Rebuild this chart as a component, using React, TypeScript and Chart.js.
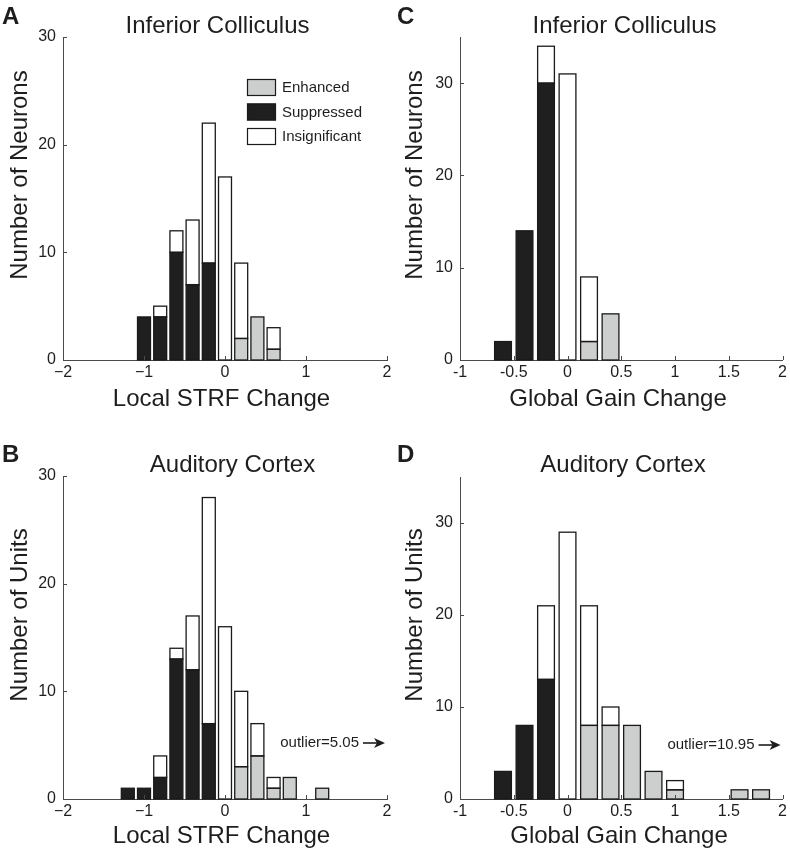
import React, { useEffect, useRef } from 'react';
import { Chart, registerables } from 'chart.js';

Chart.register(...registerables);

const FONT = '"Liberation Sans", Arial, Helvetica, sans-serif';
const AXIS_COLOR = '#4a4a4a';
const TEXT_COLOR = '#1e1e1e';
const SUPP_COLOR = '#1f1f1f';
const ENH_COLOR = '#cdcfcf';
const INSIG_COLOR = '#ffffff';
const EDGE_COLOR = '#1a1a1a';

const seriesLabels = ['Suppressed', 'Enhanced', 'Insignificant'];

// Panel A: Inferior Colliculus, Local STRF Change
const icLocalBins = [-1.0, -0.8, -0.6, -0.4, -0.2, 0, 0.2, 0.4, 0.6];
const icLocalSuppressed = [4, 4, 10, 7, 9, 0, 0, 0, 0];
const icLocalEnhanced = [0, 0, 0, 0, 0, 0, 2, 4, 1];
const icLocalInsignificant = [0, 1, 2, 6, 13, 17, 7, 0, 2];

// Panel B: Auditory Cortex, Local STRF Change
const acLocalBins = [-1.2, -1.0, -0.8, -0.6, -0.4, -0.2, 0, 0.2, 0.4, 0.6, 0.8, 1.0, 1.2];
const acLocalSuppressed = [1, 1, 2, 13, 12, 7, 0, 0, 0, 0, 0, 0, 0];
const acLocalEnhanced = [0, 0, 0, 0, 0, 0, 0, 3, 4, 1, 2, 0, 1];
const acLocalInsignificant = [0, 0, 2, 1, 5, 21, 16, 7, 3, 1, 0, 0, 0];

// Panel C: Inferior Colliculus, Global Gain Change
const icGainBins = [-0.6, -0.4, -0.2, 0, 0.2, 0.4];
const icGainSuppressed = [2, 14, 30, 0, 0, 0];
const icGainEnhanced = [0, 0, 0, 0, 2, 5];
const icGainInsignificant = [0, 0, 4, 31, 7, 0];

// Panel D: Auditory Cortex, Global Gain Change
const acGainBins = [-0.6, -0.4, -0.2, 0, 0.2, 0.4, 0.6, 0.8, 1.0, 1.2, 1.4, 1.6, 1.8];
const acGainSuppressed = [3, 8, 13, 0, 0, 0, 0, 0, 0, 0, 0, 0, 0];
const acGainEnhanced = [0, 0, 0, 0, 8, 8, 8, 3, 1, 0, 0, 1, 1];
const acGainInsignificant = [0, 0, 8, 29, 13, 2, 0, 0, 1, 0, 0, 0, 0];

// Axis ranges and labels
const localXRange = [-2, 2];
const localXStep = 1;
const gainXRange = [-1, 2];
const gainXStep = 0.5;
const icLocalYMax = 30;
const acLocalYMax = 30;
const icGainYMax = 35;
const acGainYMax = 35;
const yStep = 10;
const acLocalOutlier = 'outlier=5.05';
const acGainOutlier = 'outlier=10.95';

const decorPlugin = {
  id: 'decor',
  afterDatasetsDraw(chart: any, _a: any, o: any) {
    const { ctx, chartArea: ca, scales } = chart;
    ctx.save();
    // bar outlines, from the library's bar elements
    ctx.strokeStyle = EDGE_COLOR;
    ctx.lineWidth = 1.3;
    chart.data.datasets.forEach((_ds: any, di: number) => {
      const meta = chart.getDatasetMeta(di);
      meta.data.forEach((el: any, i: number) => {
        const parsed = meta.controller.getParsed(i);
        if (!parsed || parsed.y === null || parsed.y === undefined) return;
        const { x, y, base, width } = el.getProps(['x', 'y', 'base', 'width'], true);
        ctx.strokeRect(x - width / 2, y, width, base - y);
      });
    });
    // inward tick marks
    ctx.strokeStyle = AXIS_COLOR;
    ctx.lineWidth = 1;
    scales.x.ticks.forEach((t: any) => {
      const px = Math.round(scales.x.getPixelForValue(t.value)) + 0.5;
      ctx.beginPath();
      ctx.moveTo(px, ca.bottom);
      ctx.lineTo(px, ca.bottom - 4);
      ctx.stroke();
    });
    scales.y.ticks.forEach((t: any) => {
      const py = Math.round(scales.y.getPixelForValue(t.value)) + 0.5;
      ctx.beginPath();
      ctx.moveTo(ca.left, py);
      ctx.lineTo(ca.left + 4, py);
      ctx.stroke();
    });
    ctx.restore();
  },
  afterDraw(chart: any, _a: any, o: any) {
    const { ctx, chartArea: ca } = chart;
    ctx.save();
    ctx.fillStyle = TEXT_COLOR;
    // panel letter
    ctx.font = `bold 24px ${FONT}`;
    ctx.textAlign = 'left';
    ctx.textBaseline = 'middle';
    ctx.fillText(o.letter, o.letterX, o.letterY);
    // title
    ctx.font = `24px ${FONT}`;
    ctx.textAlign = 'center';
    ctx.fillText(o.title, o.titleX, o.titleY);
    // x title
    ctx.fillText(o.xTitle, o.xTitleX, o.xTitleY);
    // y title
    ctx.save();
    ctx.translate(o.yTitleX, o.yTitleY);
    ctx.rotate(-Math.PI / 2);
    ctx.fillText(o.yTitle, 0, 0);
    ctx.restore();
    // legend
    if (o.legend) {
      const order = [1, 0, 2];
      ctx.font = `15px ${FONT}`;
      ctx.textAlign = 'left';
      order.forEach((di, i) => {
        const ds = chart.data.datasets[di];
        const y = o.legendY + i * 24.5;
        ctx.fillStyle = ds.backgroundColor;
        ctx.fillRect(o.legendX, y, 29, 17);
        ctx.strokeStyle = EDGE_COLOR;
        ctx.lineWidth = 1.2;
        ctx.strokeRect(o.legendX + 0.5, y + 0.5, 28, 16);
        ctx.fillStyle = TEXT_COLOR;
        ctx.fillText(ds.label, o.legendX + 35, y + 9);
      });
    }
    // outlier annotation
    if (o.outlier) {
      ctx.font = `15px ${FONT}`;
      ctx.textAlign = 'right';
      ctx.fillStyle = TEXT_COLOR;
      const y = ca.bottom - o.outlierDy;
      const x2 = ca.right - 2;
      const x1 = ca.right - 24;
      ctx.fillText(o.outlier, ca.right - 28, y);
      ctx.strokeStyle = TEXT_COLOR;
      ctx.lineWidth = 1.6;
      ctx.beginPath();
      ctx.moveTo(x1, y);
      ctx.lineTo(x2 - 6, y);
      ctx.stroke();
      ctx.beginPath();
      ctx.moveTo(x2, y);
      ctx.lineTo(x2 - 11, y - 5);
      ctx.lineTo(x2 - 8, y);
      ctx.lineTo(x2 - 11, y + 5);
      ctx.closePath();
      ctx.fill();
    }
    ctx.restore();
  },
};

type Spec = any;

function buildConfig(s: Spec) {
  const mk = (label: string, vals: number[], color: string) => ({
    label,
    data: s.bins.map((b: number, i: number) => ({ x: b, y: vals[i] === 0 ? null : vals[i] })),
    backgroundColor: color,
    borderColor: EDGE_COLOR,
    borderWidth: 0,
    barPercentage: s.barPct,
    categoryPercentage: 1,
  });
  return {
    type: 'bar',
    data: {
      datasets: [
        mk(seriesLabels[0], s.supp, SUPP_COLOR),
        mk(seriesLabels[1], s.enh, ENH_COLOR),
        mk(seriesLabels[2], s.insig, INSIG_COLOR),
      ],
    },
    plugins: [decorPlugin],
    options: {
      responsive: false,
      maintainAspectRatio: false,
      animation: false,
      devicePixelRatio: 1,
      layout: { padding: { left: 0, top: s.area.top, right: s.w - s.area.right, bottom: 0 } },
      plugins: {
        legend: { display: false },
        tooltip: { enabled: false },
        title: { display: false },
        decor: s.decor,
      },
      scales: {
        x: {
          type: 'linear',
          stacked: true,
          offset: false,
          min: s.xRange[0],
          max: s.xRange[1],
          grid: { display: false, drawTicks: false, offset: false },
          border: { display: true, color: AXIS_COLOR, width: 1 },
          ticks: {
            stepSize: s.xStep,
            padding: 3,
            color: TEXT_COLOR,
            font: { family: FONT, size: 16 },
            maxRotation: 0,
            autoSkip: false,
            callback: (v: number) => (v < 0 && s.minus ? '\u2212' + Math.abs(v) : String(v)),
          },
          afterFit: (sc: any) => { sc.height = s.h - s.area.bottom; },
        },
        y: {
          type: 'linear',
          stacked: true,
          min: 0,
          max: s.yMax,
          grid: { display: false, drawTicks: false },
          border: { display: true, color: AXIS_COLOR, width: 1 },
          ticks: {
            stepSize: yStep,
            includeBounds: false,
            padding: 7,
            color: TEXT_COLOR,
            font: { family: FONT, size: 16 },
          },
          afterFit: (sc: any) => { sc.width = s.area.left; },
        },
      },
    },
  };
}

const specs: Spec[] = [
  {
    key: 'A', left: 0, top: 0, w: 395, h: 420,
    area: { left: 63, right: 387, top: 37, bottom: 360 },
    bins: icLocalBins, supp: icLocalSuppressed, enh: icLocalEnhanced, insig: icLocalInsignificant,
    xRange: localXRange, xStep: localXStep, yMax: icLocalYMax, minus: true, barPct: 0.8,
    decor: {
      letter: 'A', letterX: 2, letterY: 17,
      title: 'Inferior Colliculus', titleX: 217.5, titleY: 26,
      xTitle: 'Local STRF Change', xTitleX: 221.5, xTitleY: 399,
      yTitle: 'Number of Neurons', yTitleX: 20, yTitleY: 175,
      legend: true, legendX: 247, legendY: 79,
      outlier: null, outlierDy: 0,
    },
  },
  {
    key: 'C', left: 395, top: 0, w: 395, h: 420,
    area: { left: 65, right: 388, top: 37, bottom: 360 },
    bins: icGainBins, supp: icGainSuppressed, enh: icGainEnhanced, insig: icGainInsignificant,
    xRange: gainXRange, xStep: gainXStep, yMax: icGainYMax, minus: false, barPct: 0.78,
    decor: {
      letter: 'C', letterX: 2, letterY: 17,
      title: 'Inferior Colliculus', titleX: 229.5, titleY: 26,
      xTitle: 'Global Gain Change', xTitleX: 223, xTitleY: 399,
      yTitle: 'Number of Neurons', yTitleX: 20, yTitleY: 175,
      legend: false, legendX: 0, legendY: 0,
      outlier: null, outlierDy: 0,
    },
  },
  {
    key: 'B', left: 0, top: 420, w: 395, h: 433,
    area: { left: 63, right: 387, top: 56, bottom: 379 },
    bins: acLocalBins, supp: acLocalSuppressed, enh: acLocalEnhanced, insig: acLocalInsignificant,
    xRange: localXRange, xStep: localXStep, yMax: acLocalYMax, minus: true, barPct: 0.8,
    decor: {
      letter: 'B', letterX: 2, letterY: 35,
      title: 'Auditory Cortex', titleX: 232.5, titleY: 45,
      xTitle: 'Local STRF Change', xTitleX: 221.5, xTitleY: 416,
      yTitle: 'Number of Units', yTitleX: 20, yTitleY: 195,
      legend: false, legendX: 0, legendY: 0,
      outlier: acLocalOutlier, outlierDy: 56,
    },
  },
  {
    key: 'D', left: 395, top: 420, w: 395, h: 433,
    area: { left: 65, right: 388, top: 57, bottom: 379 },
    bins: acGainBins, supp: acGainSuppressed, enh: acGainEnhanced, insig: acGainInsignificant,
    xRange: gainXRange, xStep: gainXStep, yMax: acGainYMax, minus: false, barPct: 0.78,
    decor: {
      letter: 'D', letterX: 2, letterY: 35,
      title: 'Auditory Cortex', titleX: 228, titleY: 45,
      xTitle: 'Global Gain Change', xTitleX: 224, xTitleY: 416,
      yTitle: 'Number of Units', yTitleX: 20, yTitleY: 195,
      legend: false, legendX: 0, legendY: 0,
      outlier: acGainOutlier, outlierDy: 54,
    },
  },
];

function Panel({ spec }: { spec: Spec }) {
  const ref = useRef<HTMLCanvasElement>(null);
  useEffect(() => {
    if (!ref.current) return;
    const chart = new Chart(ref.current, buildConfig(spec) as any);
    return () => chart.destroy();
  }, [spec]);
  return (
    <canvas
      ref={ref}
      width={spec.w}
      height={spec.h}
      style={{ position: 'absolute', left: spec.left, top: spec.top, width: spec.w, height: spec.h, display: 'block' }}
    />
  );
}

export default function App() {
  return (
    <div style={{ position: 'absolute', left: 0, top: 0, width: 790, height: 853, background: '#ffffff' }}>
      {specs.map((s) => (
        <Panel key={s.key} spec={s} />
      ))}
    </div>
  );
}
